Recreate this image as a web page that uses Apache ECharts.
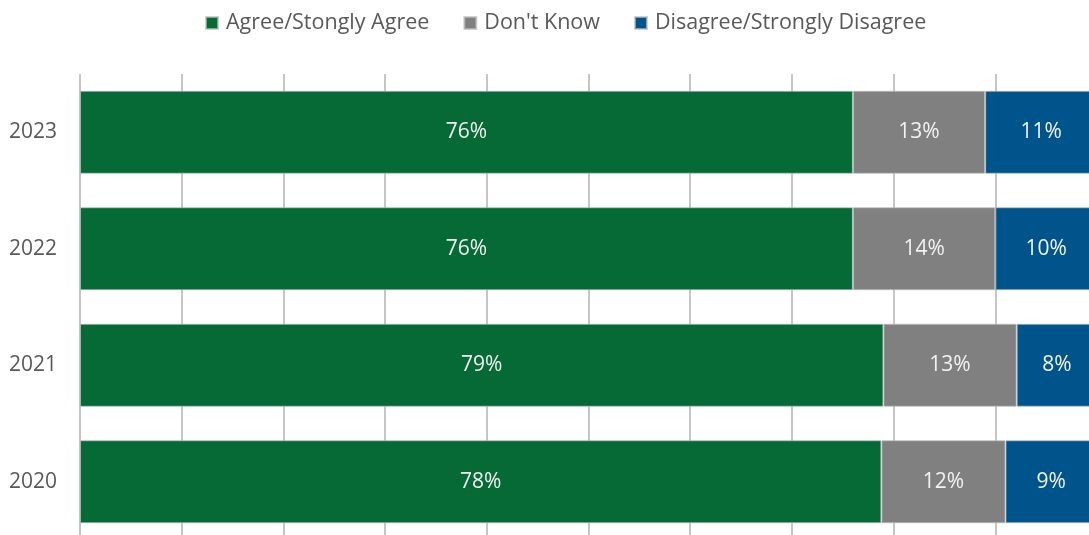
<!DOCTYPE html>
<html>
<head>
<meta charset="utf-8">
<script src="https://cdn.jsdelivr.net/npm/echarts@6/dist/echarts.min.js"></script>
<style>html,body{margin:0;padding:0;background:#fff}#c{width:1089px;height:535px}</style>
</head>
<body>
<div id="c"></div>
<script>
var years = ['2020', '2021', '2022', '2023'];
var agree = [78.8, 79.0, 76.0, 76.0];
var dontKnow = [12.2, 13.1, 14.0, 13.0];
var disagree = [9.0, 7.9, 10.0, 11.0];
var agreeLabels = ['78%', '79%', '76%', '76%'];
var dontKnowLabels = ['12%', '13%', '14%', '13%'];
var disagreeLabels = ['9%', '8%', '10%', '11%'];
var seriesNames = ['Agree/Stongly Agree', "Don't Know", 'Disagree/Strongly Disagree'];

var FONT = 'Open Sans';
function mk(name, data, labels, color) {
  return {
    name: name, type: 'bar', stack: 'total', data: data,
    barWidth: 83,
    itemStyle: { color: color, borderColor: 'rgba(190,190,190,0.7)', borderWidth: 1 },
    label: {
      show: true, position: 'inside', color: '#f2f2f2', fontSize: 21, fontFamily: FONT,
      formatter: function (p) { return labels[p.dataIndex]; }
    }
  };
}
var chart = echarts.init(document.getElementById('c'));
chart.setOption({
  animation: false,
  legend: {
    top: 7, left: 200, itemWidth: 12, itemHeight: 12, itemGap: 34,
    textStyle: { color: '#595959', fontSize: 21.5, fontFamily: FONT, padding: [0, 0, 0, 3] },
    data: seriesNames.map(function (n) { return { name: n, icon: 'rect' }; })
  },
  grid: { left: 80, top: 74, width: 1017, height: 466, outerBoundsMode: 'none', containLabel: false },
  xAxis: {
    type: 'value', min: 0, max: 100, interval: 10,
    axisLabel: { show: false }, axisLine: { show: false }, axisTick: { show: false },
    splitLine: { show: true, lineStyle: { color: '#c6c6c6', width: 2 } }
  },
  yAxis: {
    type: 'category', data: years,
    axisLine: { show: false }, axisTick: { show: false },
    axisLabel: { color: '#595959', fontSize: 21, fontFamily: FONT, margin: 23 }
  },
  series: [
    mk(seriesNames[0], agree, agreeLabels, '#066a37'),
    mk(seriesNames[1], dontKnow, dontKnowLabels, '#808080'),
    mk(seriesNames[2], disagree, disagreeLabels, '#00548c')
  ]
});
</script>
</body>
</html>
